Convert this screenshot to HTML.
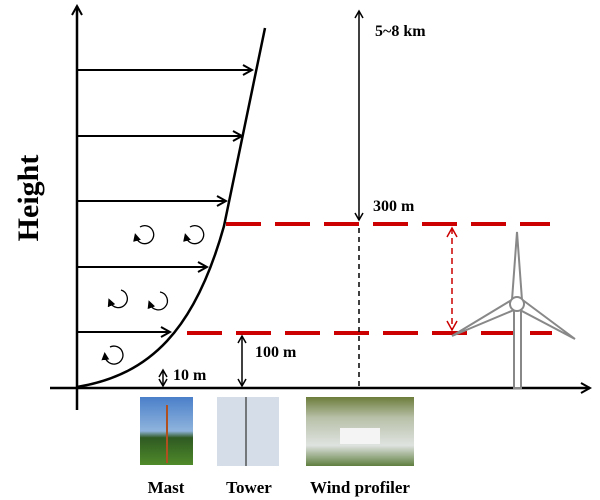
<!DOCTYPE html>
<html><head><style>body{margin:0;background:#fff}svg{display:block}text{font-family:"Liberation Serif",serif;font-weight:bold}</style></head><body>
<svg width="600" height="500" viewBox="0 0 600 500" xmlns="http://www.w3.org/2000/svg">
<defs>
<marker id="a" markerWidth="12" markerHeight="12" refX="10" refY="6" orient="auto" markerUnits="userSpaceOnUse"><path d="M1,1 L10,6 L1,11" fill="none" stroke="#000" stroke-width="2"/></marker>
<marker id="s" markerWidth="10" markerHeight="10" refX="8" refY="5" orient="auto-start-reverse" markerUnits="userSpaceOnUse"><path d="M1,1 L8,5 L1,9" fill="none" stroke="#000" stroke-width="1.5"/></marker>
<marker id="r" markerWidth="12" markerHeight="12" refX="10" refY="6" orient="auto-start-reverse" markerUnits="userSpaceOnUse"><path d="M1,1 L10,6 L1,11" fill="none" stroke="#c00" stroke-width="1.5"/></marker>
<marker id="t" markerWidth="8" markerHeight="8" refX="4" refY="4" orient="auto" markerUnits="userSpaceOnUse"><path d="M0,0 L8,4 L0,8Z" fill="#000"/></marker>
</defs>
<line x1="77" y1="410" x2="77" y2="6" stroke="#000" stroke-width="2.5" marker-end="url(#a)"/>
<line x1="50" y1="388" x2="590" y2="388" stroke="#000" stroke-width="2.5" marker-end="url(#a)"/>
<text transform="translate(38,198) rotate(-90)" text-anchor="middle" font-size="30">Height</text>
<path d="M77,387 C150,375 195,330 224,226 L265,28" fill="none" stroke="#000" stroke-width="2.5"/>
<g stroke="#000" stroke-width="2" marker-end="url(#a)">
<line x1="77" y1="70" x2="252" y2="70"/>
<line x1="77" y1="136" x2="242" y2="136"/>
<line x1="77" y1="201" x2="226" y2="201"/>
<line x1="77" y1="267" x2="207" y2="267"/>
<line x1="77" y1="332" x2="170" y2="332"/>
</g>
<g fill="none" stroke="#000" stroke-width="1.3" marker-end="url(#t)">
<path d="M140,227 A9,9 0 1,1 136,237"/>
<path d="M190,227 A9,9 0 1,1 186,237"/>
<path d="M121,290 A9,9 0 1,1 110,302"/>
<path d="M160,292 A9,9 0 1,1 150,304"/>
<path d="M110,347 A9,9 0 1,1 105,356"/>
</g>
<g stroke="#c00" stroke-width="4" stroke-dasharray="35,14">
<line x1="226" y1="224" x2="550" y2="224"/>
<line x1="187" y1="333" x2="552" y2="333"/>
</g>
<line x1="452" y1="228" x2="452" y2="330" stroke="#c00" stroke-width="1.5" stroke-dasharray="6,4" marker-start="url(#r)" marker-end="url(#r)"/>
<line x1="359" y1="11" x2="359" y2="220" stroke="#000" stroke-width="1.5" marker-start="url(#s)" marker-end="url(#s)"/>
<line x1="359" y1="228" x2="359" y2="388" stroke="#000" stroke-width="1.5" stroke-dasharray="5,4"/>
<line x1="242" y1="336" x2="242" y2="386" stroke="#000" stroke-width="1.5" marker-start="url(#s)" marker-end="url(#s)"/>
<line x1="163" y1="370" x2="163" y2="386" stroke="#000" stroke-width="1.5" marker-start="url(#s)" marker-end="url(#s)"/>
<text x="375" y="36" font-size="16">5~8 km</text>
<text x="373" y="211" font-size="16">300 m</text>
<text x="255" y="357" font-size="16">100 m</text>
<text x="173" y="380" font-size="16">10 m</text>
<g fill="#fff" stroke="#888" stroke-width="2">
<rect x="514" y="310" width="7" height="78"/>
<path d="M512,300 L517,232 L522,300Z"/>
<path d="M510,301 L452,336 L514,310Z"/>
<path d="M524,301 L575,339 L520,310Z"/>
<circle cx="517" cy="304" r="7"/>
</g>
<defs>
<linearGradient id="m" x1="0" y1="0" x2="0" y2="1"><stop offset="0" stop-color="#4a7fc9"/><stop offset="0.5" stop-color="#8fb4dd"/><stop offset="0.6" stop-color="#2f5a22"/><stop offset="1" stop-color="#4f8a2a"/></linearGradient>
<linearGradient id="p" x1="0" y1="0" x2="0" y2="1"><stop offset="0" stop-color="#6c7d3a"/><stop offset="0.3" stop-color="#b8c0a8"/><stop offset="0.7" stop-color="#dfe3e0"/><stop offset="1" stop-color="#5f7f3f"/></linearGradient>
</defs>
<rect x="140" y="397" width="53" height="68" fill="url(#m)"/>
<line x1="167" y1="405" x2="167" y2="463" stroke="#b05020" stroke-width="2"/>
<rect x="217" y="397" width="62" height="69" fill="#d4dde8"/>
<line x1="246" y1="397" x2="246" y2="466" stroke="#555" stroke-width="1.5"/>
<rect x="306" y="397" width="108" height="69" fill="url(#p)"/>
<rect x="340" y="428" width="40" height="16" fill="#f4f4f4"/>
<g font-size="17" text-anchor="middle">
<text x="166" y="493">Mast</text>
<text x="249" y="493">Tower</text>
<text x="360" y="493">Wind profiler</text>
</g>
</svg>
</body></html>
